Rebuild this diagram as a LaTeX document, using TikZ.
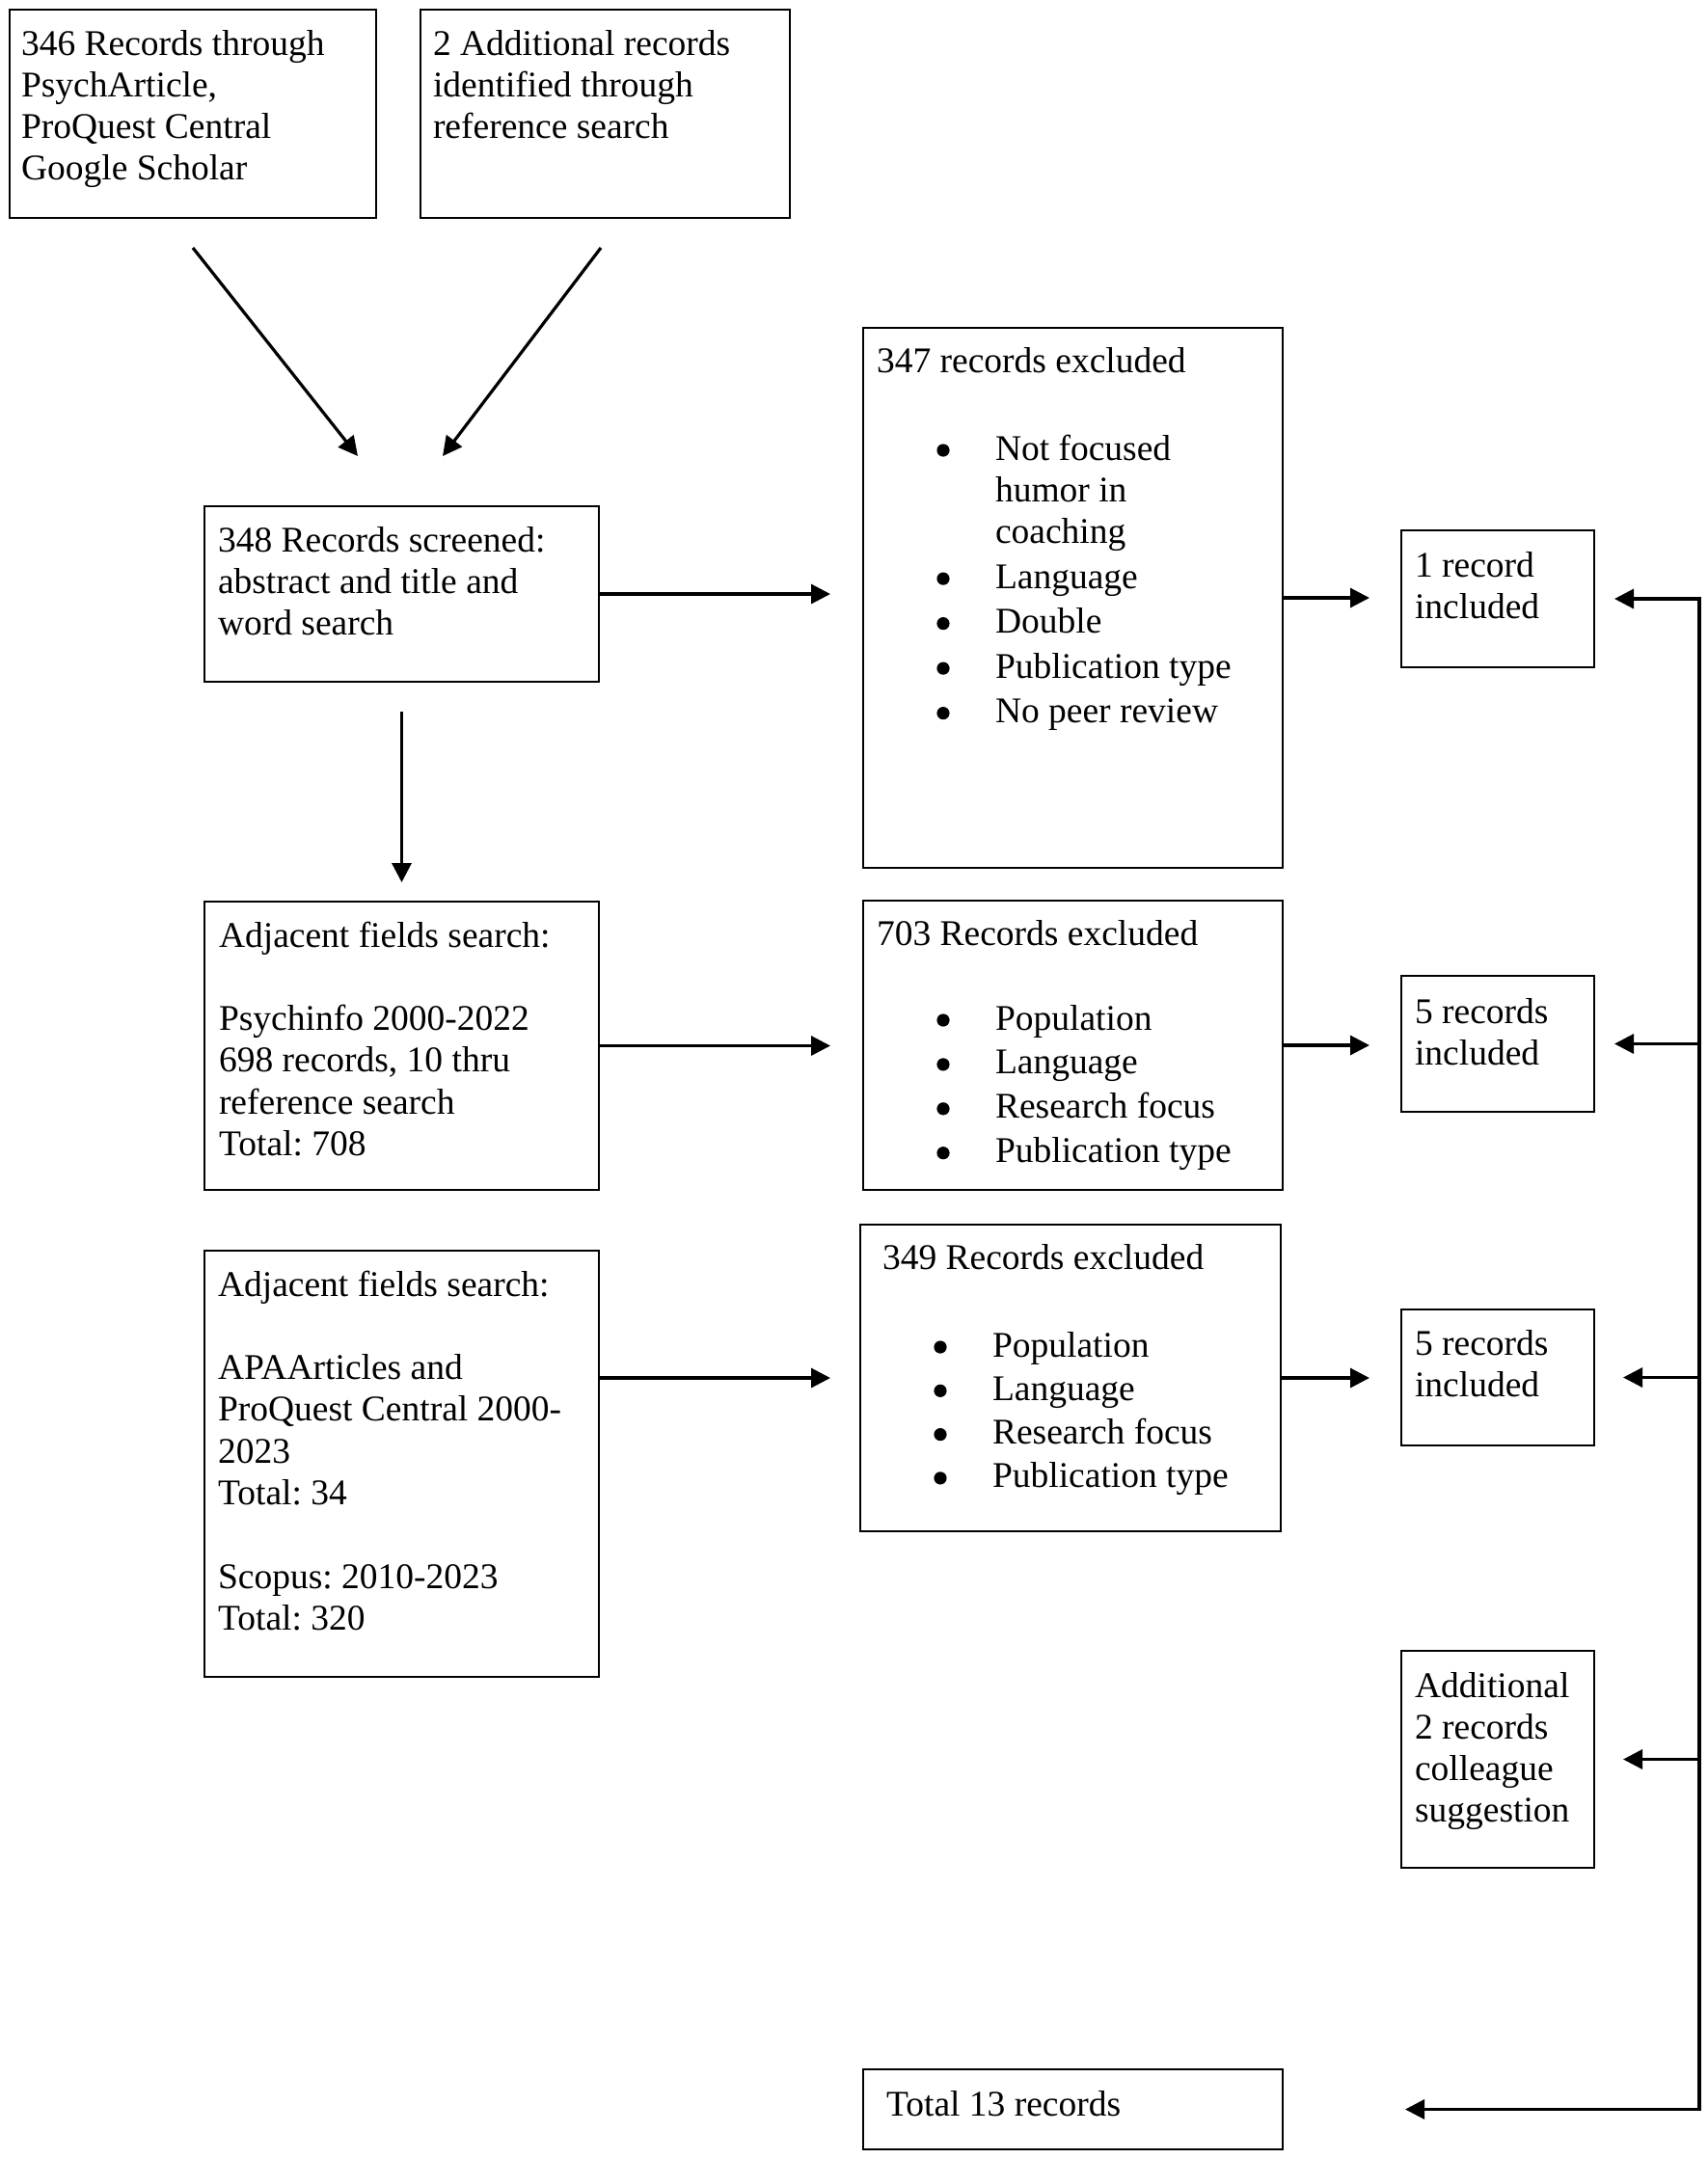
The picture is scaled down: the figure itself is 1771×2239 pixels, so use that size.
\documentclass[tikz,border=0pt]{standalone}
\usepackage{fontspec}
\setmainfont{Liberation Serif}
\usetikzlibrary{arrows.meta,calc}
\frenchspacing
\newcommand{\fs}{\fontsize{18.75pt}{21.65pt}\selectfont}
\newcommand{\bdot}{\tikz[baseline=0pt]\fill[black] (3.3pt,5pt) circle[radius=3.3pt];}
\newcommand{\bul}{\makebox[30.3pt][l]{\bdot}}
\newcommand{\ind}{\hspace*{30.3pt}}
\begin{document}
\begin{tikzpicture}[x=0.5pt,y=-0.5pt,
  box/.style={draw, line width=1.35pt, inner sep=0pt, outer sep=0pt, anchor=north west},
  txt/.style={anchor=north west, inner sep=0pt, outer sep=0pt, align=left, font=\fs},
  arr/.style={line width=1.6pt, -{Triangle[length=10pt,width=10pt]}},
  ln/.style={line width=1.6pt}]
\useasboundingbox (0,0) rectangle (1771,2239);
% boxes
\node[box, minimum width=190pt, minimum height=108pt] (A) at (10,10) {};
\node[box, minimum width=191.5pt, minimum height=108pt] (B) at (436,10) {};
\node[box, minimum width=204.5pt, minimum height=91pt] (C) at (212,525) {};
\node[box, minimum width=204.5pt, minimum height=149.5pt] (D) at (212,935) {};
\node[box, minimum width=204.5pt, minimum height=221pt] (I) at (212,1297) {};
\node[box, minimum width=217.5pt, minimum height=280pt] (E) at (895,340) {};
\node[box, minimum width=217.5pt, minimum height=150pt] (F) at (895,934) {};
\node[box, minimum width=218pt, minimum height=159pt] (J) at (892,1270) {};
\node[box, minimum width=217.5pt, minimum height=41.5pt] (L) at (895,2146) {};
\node[box, minimum width=100pt, minimum height=71pt] (G) at (1453,550) {};
\node[box, minimum width=100pt, minimum height=70.5pt] (H) at (1453,1012) {};
\node[box, minimum width=100pt, minimum height=70.5pt] (H2) at (1453,1358) {};
\node[box, minimum width=100pt, minimum height=112.5pt] (K) at (1453,1712) {};
% texts
\node[txt] (tA) at (22,26.7) {\strut 346 Records through\\ PsychArticle,\\ ProQuest Central\\ Google Scholar};
\node[txt] (tB) at (449,26.7) {\strut 2 Additional records\\ identified through\\ reference search};
\node[txt] (tC) at (226,541.7) {\strut 348 Records screened:\\ abstract and title and\\ word search};
\node[txt] (tD) at (227,951.7) {\strut Adjacent fields search:\\ \strut\\ Psychinfo 2000-2022\\ 698 records, 10 thru\\ reference search\\ Total: 708};
\node[txt] (tI) at (226,1313.7) {\strut Adjacent fields search:\\ \strut\\ APAArticles and\\ ProQuest Central 2000-\\ 2023\\ Total: 34\\ \strut\\ Scopus: 2010-2023\\ Total: 320};
\node[txt] (tEh) at (909,355.7) {\strut 347 records excluded};
\node[txt] (tEl) at (971.4,446.7) {\strut\bul Not focused\\ \ind humor in\\ \ind coaching\\[1.6pt] \bul Language\\[1.6pt] \bul Double\\[1.6pt] \bul Publication type\\[1.6pt] \bul No peer review};
\node[txt] (tFh) at (909,949.7) {\strut 703 Records excluded};
\node[txt] (tFl) at (971.4,1037.7) {\strut\bul Population\\[1.3pt] \bul Language\\[1.3pt] \bul Research focus\\[1.3pt] \bul Publication type};
\node[txt] (tJh) at (915,1285.7) {\strut 349 Records excluded};
\node[txt] (tJl) at (968.4,1376.7) {\strut\bul Population\\[1pt] \bul Language\\[1pt] \bul Research focus\\[1pt] \bul Publication type};
\node[txt] (tG) at (1467,567.7) {\strut 1 record\\ included};
\node[txt] (tH) at (1467,1030.7) {\strut 5 records\\ included};
\node[txt] (tH2) at (1467,1374.7) {\strut 5 records\\ included};
\node[txt] (tK) at (1467,1729.7) {\strut Additional\\ 2 records\\ colleague\\ suggestion};
\node[txt] (tL) at (919,2163.7) {\strut Total 13 records};
% connectors
\coordinate (p1s) at (200,257); \coordinate (p1e) at (371,473);
\coordinate (p2s) at (623,257); \coordinate (p2e) at (459,473);
\draw[arr] (p1s) -- (p1e);
\draw[arr] (p2s) -- (p2e);
\draw[arr, shorten <=15.5pt, shorten >=10pt] (C.south) -- (D.north);
\draw[arr, shorten >=17pt] (C.east) -- (C.east -| E.west);
\draw[arr, shorten >=17pt] (D.east) -- (D.east -| F.west);
\draw[arr, shorten >=15.5pt] (I.east |- J.west) -- (J.west);
\draw[arr, shorten >=16.5pt] (E.east) -- (E.east -| G.west);
\draw[arr, shorten >=16.5pt] (F.east) -- (F.east -| H.west);
\draw[arr, shorten >=16.5pt] (J.east) -- (J.east -| H2.west);
\coordinate (bus) at (1762,621);
\draw[ln, line cap=rect] (bus) -- (bus |- L.east);
\draw[arr, shorten >=10.5pt] (bus |- G.east) -- (G.east);
\draw[arr, shorten >=10.5pt] (bus |- H.east) -- (H.east);
\draw[arr, shorten >=15pt] (bus |- H2.east) -- (H2.east);
\draw[arr, shorten >=15pt] (bus |- K.east) -- (K.east);
\draw[arr, shorten >=63.5pt] (bus |- L.east) -- (L.east);
\end{tikzpicture}
\end{document}
